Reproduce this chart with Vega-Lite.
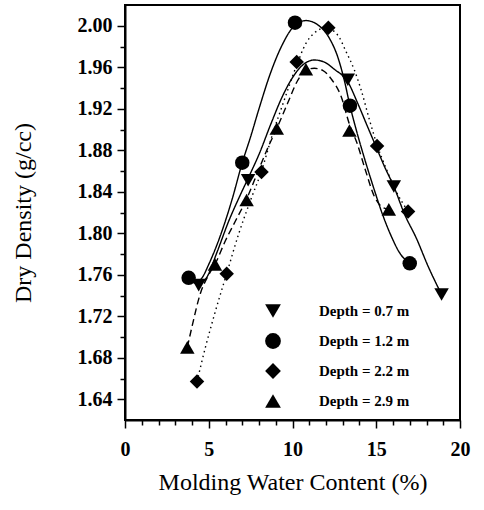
{
  "$schema": "https://vega.github.io/schema/vega-lite/v6.json",
  "width": 335,
  "height": 415,
  "autosize": "none",
  "padding": {"left": 125, "top": 5, "right": 24, "bottom": 90},
  "background": "white",
  "config": {
    "font": "Liberation Serif",
    "view": {"stroke": "black", "strokeWidth": 2}
  },
  "datasets": {
    "measured": [
      {"series": "Depth = 0.7 m", "w": 4.4, "d": 1.750},
      {"series": "Depth = 0.7 m", "w": 7.35, "d": 1.851},
      {"series": "Depth = 0.7 m", "w": 13.3, "d": 1.948},
      {"series": "Depth = 0.7 m", "w": 16.05, "d": 1.845},
      {"series": "Depth = 0.7 m", "w": 18.9, "d": 1.741},
      {"series": "Depth = 1.2 m", "w": 3.8, "d": 1.757},
      {"series": "Depth = 1.2 m", "w": 7.0, "d": 1.868},
      {"series": "Depth = 1.2 m", "w": 10.15, "d": 2.003},
      {"series": "Depth = 1.2 m", "w": 13.43, "d": 1.923},
      {"series": "Depth = 1.2 m", "w": 17.0, "d": 1.771},
      {"series": "Depth = 2.2 m", "w": 4.3, "d": 1.657},
      {"series": "Depth = 2.2 m", "w": 6.07, "d": 1.761},
      {"series": "Depth = 2.2 m", "w": 8.15, "d": 1.859},
      {"series": "Depth = 2.2 m", "w": 10.25, "d": 1.965},
      {"series": "Depth = 2.2 m", "w": 12.14, "d": 1.998},
      {"series": "Depth = 2.2 m", "w": 15.05, "d": 1.884},
      {"series": "Depth = 2.2 m", "w": 16.9, "d": 1.821},
      {"series": "Depth = 2.9 m", "w": 3.72, "d": 1.690},
      {"series": "Depth = 2.9 m", "w": 5.37, "d": 1.770},
      {"series": "Depth = 2.9 m", "w": 7.26, "d": 1.832},
      {"series": "Depth = 2.9 m", "w": 9.06, "d": 1.901},
      {"series": "Depth = 2.9 m", "w": 10.8, "d": 1.958},
      {"series": "Depth = 2.9 m", "w": 13.4, "d": 1.899},
      {"series": "Depth = 2.9 m", "w": 15.75, "d": 1.823}
    ],
    "fitted": [
      {"depth": "0.7", "w": 4.4, "d": 1.750},
      {"depth": "0.7", "w": 4.9, "d": 1.758},
      {"depth": "0.7", "w": 5.5, "d": 1.782},
      {"depth": "0.7", "w": 6.2, "d": 1.812},
      {"depth": "0.7", "w": 6.8, "d": 1.834},
      {"depth": "0.7", "w": 7.35, "d": 1.853},
      {"depth": "0.7", "w": 8.0, "d": 1.876},
      {"depth": "0.7", "w": 8.7, "d": 1.905},
      {"depth": "0.7", "w": 9.4, "d": 1.932},
      {"depth": "0.7", "w": 10.0, "d": 1.950},
      {"depth": "0.7", "w": 10.6, "d": 1.962},
      {"depth": "0.7", "w": 11.3, "d": 1.967},
      {"depth": "0.7", "w": 11.9, "d": 1.965},
      {"depth": "0.7", "w": 12.5, "d": 1.958},
      {"depth": "0.7", "w": 13.3, "d": 1.946},
      {"depth": "0.7", "w": 13.9, "d": 1.925},
      {"depth": "0.7", "w": 14.5, "d": 1.902},
      {"depth": "0.7", "w": 15.0, "d": 1.883},
      {"depth": "0.7", "w": 15.5, "d": 1.864},
      {"depth": "0.7", "w": 16.05, "d": 1.845},
      {"depth": "0.7", "w": 16.7, "d": 1.818},
      {"depth": "0.7", "w": 17.4, "d": 1.795},
      {"depth": "0.7", "w": 18.1, "d": 1.768},
      {"depth": "0.7", "w": 18.9, "d": 1.741},
      {"depth": "1.2", "w": 3.8, "d": 1.757},
      {"depth": "1.2", "w": 4.2, "d": 1.752},
      {"depth": "1.2", "w": 4.6, "d": 1.757},
      {"depth": "1.2", "w": 5.0, "d": 1.770},
      {"depth": "1.2", "w": 5.7, "d": 1.798},
      {"depth": "1.2", "w": 6.4, "d": 1.833},
      {"depth": "1.2", "w": 7.0, "d": 1.868},
      {"depth": "1.2", "w": 7.5, "d": 1.893},
      {"depth": "1.2", "w": 8.0, "d": 1.920},
      {"depth": "1.2", "w": 8.7, "d": 1.955},
      {"depth": "1.2", "w": 9.4, "d": 1.982},
      {"depth": "1.2", "w": 10.0, "d": 1.998},
      {"depth": "1.2", "w": 10.8, "d": 2.005},
      {"depth": "1.2", "w": 11.5, "d": 2.001},
      {"depth": "1.2", "w": 12.2, "d": 1.988},
      {"depth": "1.2", "w": 12.7, "d": 1.970},
      {"depth": "1.2", "w": 13.1, "d": 1.947},
      {"depth": "1.2", "w": 13.43, "d": 1.923},
      {"depth": "1.2", "w": 13.8, "d": 1.900},
      {"depth": "1.2", "w": 14.3, "d": 1.872},
      {"depth": "1.2", "w": 14.8, "d": 1.846},
      {"depth": "1.2", "w": 15.4, "d": 1.817},
      {"depth": "1.2", "w": 15.9, "d": 1.797},
      {"depth": "1.2", "w": 16.4, "d": 1.781},
      {"depth": "1.2", "w": 17.0, "d": 1.771},
      {"depth": "2.2", "w": 4.3, "d": 1.657},
      {"depth": "2.2", "w": 4.8, "d": 1.690},
      {"depth": "2.2", "w": 5.4, "d": 1.725},
      {"depth": "2.2", "w": 6.07, "d": 1.761},
      {"depth": "2.2", "w": 6.8, "d": 1.800},
      {"depth": "2.2", "w": 7.5, "d": 1.832},
      {"depth": "2.2", "w": 8.15, "d": 1.860},
      {"depth": "2.2", "w": 8.8, "d": 1.895},
      {"depth": "2.2", "w": 9.5, "d": 1.928},
      {"depth": "2.2", "w": 10.25, "d": 1.962},
      {"depth": "2.2", "w": 10.8, "d": 1.983},
      {"depth": "2.2", "w": 11.3, "d": 1.993},
      {"depth": "2.2", "w": 12.0, "d": 1.998},
      {"depth": "2.2", "w": 12.7, "d": 1.991},
      {"depth": "2.2", "w": 13.2, "d": 1.975},
      {"depth": "2.2", "w": 13.7, "d": 1.957},
      {"depth": "2.2", "w": 14.1, "d": 1.938},
      {"depth": "2.2", "w": 14.6, "d": 1.909},
      {"depth": "2.2", "w": 15.05, "d": 1.885},
      {"depth": "2.2", "w": 15.6, "d": 1.862},
      {"depth": "2.2", "w": 16.2, "d": 1.840},
      {"depth": "2.2", "w": 16.9, "d": 1.821},
      {"depth": "2.9", "w": 3.72, "d": 1.690},
      {"depth": "2.9", "w": 4.0, "d": 1.710},
      {"depth": "2.9", "w": 4.5, "d": 1.742},
      {"depth": "2.9", "w": 5.0, "d": 1.760},
      {"depth": "2.9", "w": 5.37, "d": 1.770},
      {"depth": "2.9", "w": 6.0, "d": 1.793},
      {"depth": "2.9", "w": 6.6, "d": 1.812},
      {"depth": "2.9", "w": 7.26, "d": 1.833},
      {"depth": "2.9", "w": 8.0, "d": 1.862},
      {"depth": "2.9", "w": 8.6, "d": 1.885},
      {"depth": "2.9", "w": 9.06, "d": 1.901},
      {"depth": "2.9", "w": 9.7, "d": 1.925},
      {"depth": "2.9", "w": 10.3, "d": 1.947},
      {"depth": "2.9", "w": 10.8, "d": 1.957},
      {"depth": "2.9", "w": 11.3, "d": 1.959},
      {"depth": "2.9", "w": 11.8, "d": 1.957},
      {"depth": "2.9", "w": 12.3, "d": 1.949},
      {"depth": "2.9", "w": 12.9, "d": 1.932},
      {"depth": "2.9", "w": 13.4, "d": 1.905},
      {"depth": "2.9", "w": 13.85, "d": 1.887},
      {"depth": "2.9", "w": 14.35, "d": 1.861},
      {"depth": "2.9", "w": 14.9, "d": 1.835},
      {"depth": "2.9", "w": 15.3, "d": 1.826},
      {"depth": "2.9", "w": 15.75, "d": 1.823}
    ]
  },
  "layer": [
    {
      "data": {"name": "fitted"},
      "mark": {"type": "line", "interpolate": "monotone", "color": "black", "strokeWidth": 1.4},
      "encoding": {
        "x": {
          "field": "w", "type": "quantitative",
          "scale": {"domain": [0, 20], "nice": false, "zero": false},
          "axis": {
            "orient": "bottom", "values": [1, 2, 3, 4, 6, 7, 8, 9, 11, 12, 13, 14, 16, 17, 18, 19],
            "labels": false, "title": null, "domain": false, "grid": false,
            "ticks": true, "tickSize": 5, "tickWidth": 1.5, "tickColor": "black"
          }
        },
        "y": {
          "field": "d", "type": "quantitative",
          "scale": {"domain": [1.62, 2.02], "nice": false, "zero": false},
          "axis": {
            "orient": "left", "values": [1.66, 1.70, 1.74, 1.78, 1.82, 1.86, 1.90, 1.94, 1.98],
            "labels": false, "title": null, "domain": false, "grid": false,
            "ticks": true, "tickSize": 5, "tickWidth": 1.5, "tickColor": "black"
          }
        },
        "strokeDash": {
          "field": "depth", "type": "nominal",
          "scale": {
            "domain": ["0.7", "1.2", "2.2", "2.9"],
            "range": [[1, 0], [1, 0], [1.5, 3.5], [7, 4]]
          },
          "legend": null
        }
      }
    },
    {
      "data": {"name": "measured"},
      "mark": {"type": "point", "filled": true, "color": "black", "opacity": 1, "size": 210},
      "encoding": {
        "x": {
          "field": "w", "type": "quantitative",
          "scale": {"domain": [0, 20], "nice": false, "zero": false},
          "axis": {
            "orient": "bottom", "values": [0, 5, 10, 15, 20], "format": "d",
            "title": "Molding Water Content (%)", "grid": false,
            "domainColor": "black", "domainWidth": 2,
            "tickColor": "black", "tickSize": 8, "tickWidth": 1.5,
            "labelColor": "black", "labelFont": "Liberation Serif", "labelFontSize": 20, "labelFontWeight": "bold", "labelPadding": 11,
            "labelFlush": false,
            "titleColor": "black", "titleFont": "Liberation Serif", "titleFontSize": 24, "titleFontWeight": "normal", "titlePadding": 11
          }
        },
        "y": {
          "field": "d", "type": "quantitative",
          "scale": {"domain": [1.62, 2.02], "nice": false, "zero": false},
          "axis": {
            "orient": "left", "values": [1.64, 1.68, 1.72, 1.76, 1.80, 1.84, 1.88, 1.92, 1.96, 2.00], "format": ".2f",
            "title": "Dry Density (g/cc)", "grid": false,
            "domainColor": "black", "domainWidth": 2,
            "tickColor": "black", "tickSize": 8, "tickWidth": 1.5,
            "labelColor": "black", "labelFont": "Liberation Serif", "labelFontSize": 20, "labelFontWeight": "bold", "labelPadding": 5,
            "labelFlush": false,
            "titleColor": "black", "titleFont": "Liberation Serif", "titleFontSize": 24, "titleFontWeight": "normal", "titlePadding": 42
          }
        },
        "shape": {
          "field": "series", "type": "nominal",
          "scale": {
            "domain": ["Depth = 0.7 m", "Depth = 1.2 m", "Depth = 2.2 m", "Depth = 2.9 m"],
            "range": ["triangle-down", "circle", "diamond", "triangle-up"]
          },
          "legend": {
            "title": null, "orient": "none", "legendX": 140, "legendY": 298,
            "padding": 0, "rowPadding": 14, "symbolSize": 250,
            "symbolType": "circle",
            "symbolFillColor": "black", "symbolStrokeColor": "black", "symbolStrokeWidth": 0, "symbolOpacity": 1,
            "labelFont": "Liberation Serif", "labelFontSize": 15, "labelFontWeight": "bold", "labelColor": "black",
            "labelOffset": 38
          }
        }
      }
    }
  ],
  "resolve": {"axis": {"x": "independent", "y": "independent"}}
}
